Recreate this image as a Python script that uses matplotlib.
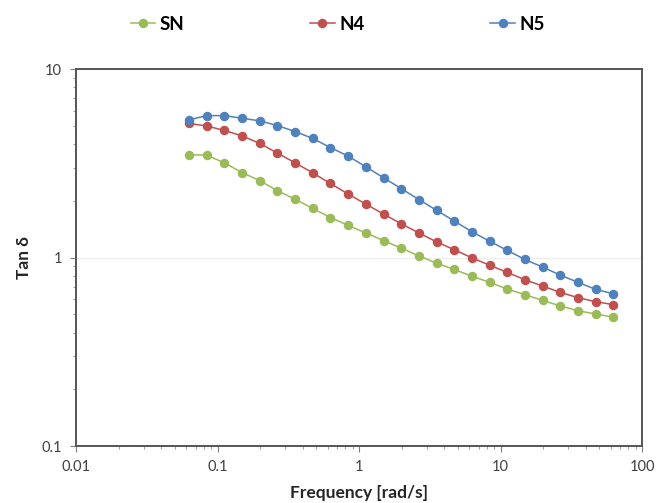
import matplotlib
matplotlib.use("Agg")
import matplotlib.pyplot as plt
from matplotlib.ticker import LogLocator, NullFormatter

plt.rcParams['font.family'] = ['Lato', 'DejaVu Sans']

# frequency sweep, rad/s
freq = [0.0628, 0.0838, 0.1117, 0.149, 0.1987, 0.265, 0.3533, 0.4712,
        0.628, 0.838, 1.117, 1.49, 1.987, 2.65, 3.533, 4.712,
        6.28, 8.38, 11.17, 14.9, 19.87, 26.5, 35.33, 47.12, 62.8]

tan_sn = [3.51, 3.49, 3.18, 2.82, 2.56, 2.26, 2.04, 1.82, 1.63,
          1.48, 1.35, 1.23, 1.12, 1.02, 0.933, 0.864,
          0.796, 0.738, 0.680, 0.635, 0.592, 0.553, 0.522, 0.501, 0.483]
tan_n4 = [5.14, 4.99, 4.72, 4.42, 4.03, 3.58, 3.18, 2.81, 2.47,
          2.17, 1.92, 1.70, 1.51, 1.35, 1.21, 1.10,
          0.996, 0.910, 0.833, 0.762, 0.705, 0.653, 0.612, 0.583, 0.562]
tan_n5 = [5.37, 5.66, 5.66, 5.48, 5.31, 5.01, 4.66, 4.28, 3.83,
          3.45, 3.03, 2.65, 2.32, 2.03, 1.78, 1.56,
          1.37, 1.22, 1.09, 0.976, 0.889, 0.806, 0.738, 0.677, 0.642]

series = [("SN", tan_sn, "#9BBB59"),
          ("N4", tan_n4, "#C0504D"),
          ("N5", tan_n5, "#4F81BD")]

xticks = [0.01, 0.1, 1, 10, 100]
xtick_labels = ["0.01", "0.1", "1", "10", "100"]
yticks = [0.1, 1, 10]
ytick_labels = ["0.1", "1", "10"]

fig = plt.figure(figsize=(6.56, 5.03), dpi=100)
ax = fig.add_axes([0.1159, 0.1133, 0.8628, 0.7495])

for name, vals, col in series:
    ax.plot(freq, vals, color=col, lw=1.1, marker='o', ms=5.8,
            mec=col, mfc=col, label=name)

ax.set_xscale('log')
ax.set_yscale('log')
ax.set_xlim(0.01, 100)
ax.set_ylim(0.1, 10)

ax.set_xticks(xticks, xtick_labels)
ax.set_yticks(yticks, ytick_labels)
ax.xaxis.set_minor_locator(LogLocator(base=10, subs=range(2, 10)))
ax.yaxis.set_minor_locator(LogLocator(base=10, subs=range(2, 10)))
ax.xaxis.set_minor_formatter(NullFormatter())
ax.yaxis.set_minor_formatter(NullFormatter())

ax.tick_params(which='major', direction='out', length=4, width=0.8,
               color='#7f7f7f', labelsize=10.5, labelcolor='#404040', pad=6)
ax.tick_params(which='minor', direction='out', length=2.5, width=0.8,
               color='#a0a0a0')

ax.yaxis.grid(True, which='major', color='#ececec', lw=0.8)
ax.set_axisbelow(True)

for sp in ax.spines.values():
    sp.set_color('#555555')
    sp.set_linewidth(1.4)

ax.set_xlabel("Frequency [rad/s]", fontsize=12.5, fontweight='bold',
              color='#262626', labelpad=8)
ax.set_ylabel("Tan δ", fontsize=12.5, fontweight='bold',
              color='#262626', labelpad=7)

fig.legend(loc='center', bbox_to_anchor=(0.515, 0.952), ncol=3,
           frameon=False, handlelength=1.3, handletextpad=0.25,
           columnspacing=6.7, prop={'weight': 'bold', 'size': 13.5})

fig.savefig("out.png", dpi=100)
